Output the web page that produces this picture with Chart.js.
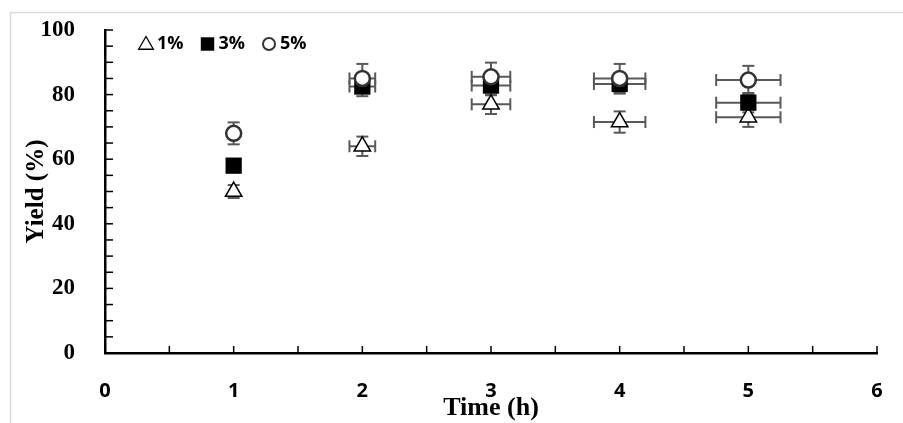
<!DOCTYPE html>
<html>
<head>
<meta charset="utf-8">
<script src="https://cdn.jsdelivr.net/npm/chart.js@4/dist/chart.umd.min.js"></script>
<style>
  body{margin:0;background:#fff}
  canvas{display:block}
</style>
</head>
<body>
<canvas id="yieldChart" width="903" height="423"></canvas>
<script>
// ===================== DATA =====================
const times=[1,2,3,4,5];
const seriesLabels=['1%','3%','5%'];
const yield1=[50,64,77,71.5,73];
const yield3=[58,82.5,82.8,83.3,77.5];
const yield5=[68,85,85.5,85,84.5];
const errY1=[2,3,3,3.3,3];
const errY3=[2,3,3,3,3];
const errY5=[3.4,4.5,4.4,4.5,4.4];
const errX=[0,0.1,0.15,0.2,0.25];
const xLabels=[0,1,2,3,4,5,6];
const yLabels=[0,20,40,60,80,100];

const toPts=ys=>times.map((t,i)=>({x:t,y:ys[i]}));

// ===================== PLUGINS =====================
// grey frame (top + left) like the pasted picture
const frame={id:'frame',
  beforeDraw(chart){
    const {ctx}=chart;
    ctx.save();
    ctx.fillStyle='#fff';ctx.fillRect(0,0,chart.width,chart.height);
    ctx.strokeStyle='#d9d9d9';ctx.lineWidth=1.5;
    ctx.beginPath();ctx.moveTo(10.5,423);ctx.lineTo(10.5,12.5);ctx.lineTo(903,12.5);ctx.stroke();
    ctx.restore();
  }};

// tick marks pointing into the plot + x/y error bars
const marks={id:'marks',
  beforeDatasetsDraw(chart){
    const {ctx,scales:{x,y},chartArea:a}=chart;
    ctx.save();
    ctx.strokeStyle='#000';ctx.lineWidth=1.5;
    y.ticks.forEach(t=>{const py=y.getPixelForValue(t.value);
      ctx.beginPath();ctx.moveTo(a.left,py);ctx.lineTo(a.left+8,py);ctx.stroke();});
    x.ticks.forEach(t=>{const px=x.getPixelForValue(t.value);
      ctx.beginPath();ctx.moveTo(px,a.bottom);ctx.lineTo(px,a.bottom-7);ctx.stroke();});

    const seg=(x1,y1,x2,y2)=>{ctx.beginPath();ctx.moveTo(x1,y1);ctx.lineTo(x2,y2);ctx.stroke();};
    ctx.strokeStyle='#595959';ctx.lineWidth=2;
    chart.data.datasets.forEach(ds=>{
      ds.data.forEach((p,i)=>{
        const px=x.getPixelForValue(p.x),py=y.getPixelForValue(p.y);
        const ey=ds.errY[i],ex=ds.errX[i];
        if(ey){
          const t=y.getPixelForValue(p.y+ey),b=y.getPixelForValue(p.y-ey);
          seg(px,t,px,b);seg(px-6,t,px+6,t);seg(px-6,b,px+6,b);
        }
        if(ex){
          const l=x.getPixelForValue(p.x-ex),r=x.getPixelForValue(p.x+ex);
          seg(l,py,r,py);seg(l,py-6,l,py+6);seg(r,py-6,r,py+6);
        }
      });
    });
    ctx.restore();
  }};

// legend drawn inside the plot, top left
const inlineLegend={id:'inlineLegend',
  afterDraw(chart){
    const {ctx}=chart;
    let cx=146;const cy=44;
    ctx.save();
    ctx.font='bold 18px "Open Sans"';ctx.textBaseline='middle';ctx.textAlign='left';
    chart.data.datasets.forEach(ds=>{
      ctx.fillStyle=ds.backgroundColor;ctx.strokeStyle=ds.borderColor;ctx.lineWidth=ds.legendBorder;
      Chart.helpers.drawPoint(ctx,{pointStyle:ds.pointStyle,radius:ds.legendRadius,borderWidth:ds.legendBorder,rotation:0},cx,cy+(ds.pointStyle==='triangle'?1:0));
      ctx.fillStyle='#000';
      const tx=cx+11;
      ctx.fillText(ds.label,tx,cy);
      cx=tx+ctx.measureText(ds.label).width+24;
    });
    ctx.restore();
  }};

// ===================== CHART =====================
const ctx=document.getElementById('yieldChart').getContext('2d');
new Chart(ctx,{type:'scatter',
  data:{datasets:[
    {label:seriesLabels[0],data:toPts(yield1),errY:errY1,errX:errX,order:2,
     pointStyle:'triangle',pointRadius:9.5,pointHoverRadius:9.5,backgroundColor:'#fff',borderColor:'#000',borderWidth:1.5,
     legendRadius:8.5,legendBorder:1.3},
    {label:seriesLabels[1],data:toPts(yield3),errY:errY3,errX:errX,order:1,
     pointStyle:'rect',pointRadius:11.5,pointHoverRadius:11.5,backgroundColor:'#000',borderColor:'#000',borderWidth:0,
     legendRadius:9.5,legendBorder:0},
    {label:seriesLabels[2],data:toPts(yield5),errY:errY5,errX:errX,order:0,
     pointStyle:'circle',pointRadius:7.5,pointHoverRadius:7.5,backgroundColor:'#fff',borderColor:'#333',borderWidth:2.5,
     legendRadius:6,legendBorder:2},
  ]},
  options:{responsive:false,animation:false,events:[],
    layout:{padding:{left:0,top:30,right:26,bottom:0}},
    plugins:{legend:{display:false},tooltip:{enabled:false}},
    scales:{
      x:{type:'linear',min:0,max:6,
         grid:{display:false,drawTicks:false},border:{display:true,color:'#000',width:2.5},
         ticks:{stepSize:0.5,autoSkip:false,maxRotation:0,padding:26,color:'#000',
                font:{family:'"Open Sans"',weight:'bold',size:20},callback:v=>xLabels.includes(v)?v:''},
         title:{display:true,text:'Time (h)',color:'#000',font:{family:'"Liberation Serif"',weight:'bold',size:26},padding:{top:0,bottom:-1}},
         afterFit:s=>{s.height=70;s.paddingLeft=0;s.paddingRight=0;}},
      y:{min:0,max:100,
         grid:{display:false,drawTicks:false},border:{display:true,color:'#000',width:2.5},
         ticks:{stepSize:5,autoSkip:false,padding:30,color:'#000',
                font:{family:'"Liberation Serif"',weight:'bold',size:23},callback:v=>yLabels.includes(v)?v:''},
         title:{display:true,text:'Yield (%)',color:'#000',font:{family:'"Liberation Serif"',weight:'bold',size:25},padding:{top:22,bottom:0}},
         afterFit:s=>{s.width=105;s.paddingTop=0;s.paddingBottom=0;}}
    }},
  plugins:[frame,marks,inlineLegend]
});
</script>
</body>
</html>
